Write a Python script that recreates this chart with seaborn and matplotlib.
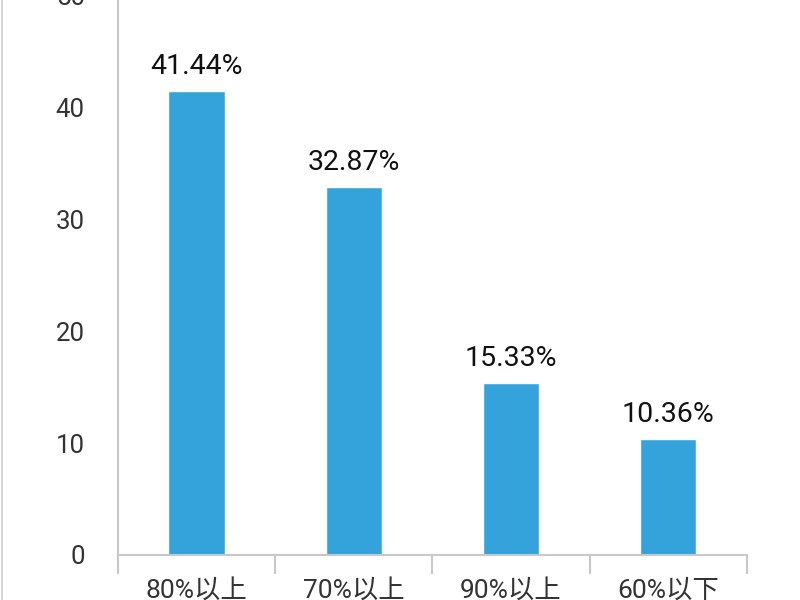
import matplotlib
matplotlib.use("Agg")
import matplotlib.pyplot as plt
import seaborn as sns
import pandas as pd
from matplotlib.lines import Line2D

categories = ["80%以上", "70%以上", "90%以上", "60%以下"]
values = [41.44, 32.87, 15.33, 10.36]
value_labels = ["41.44%", "32.87%", "15.33%", "10.36%"]
y_ticks = [0, 10, 20, 30, 40, 50]

sns.set_style("white")
plt.rcParams["font.family"] = ["Roboto", "Noto Sans CJK SC", "DejaVu Sans"]

df = pd.DataFrame({"category": categories, "value": values})

fig = plt.figure(figsize=(8, 6), dpi=100)
ax = fig.add_axes([0.1475, 0.075, 0.786, 0.9333])

sns.barplot(data=df, x="category", y="value", color="#35A3DB",
            saturation=1, width=0.36, ax=ax)

ax.set_ylim(0, 50)
ax.set_xlim(-0.5, len(categories) - 0.5)
ax.set_yticks(y_ticks)
ax.set_xlabel("")
ax.set_ylabel("")

for i, (v, lab) in enumerate(zip(values, value_labels)):
    ax.annotate(lab, (i, v), xytext=(0, 8), textcoords="offset points",
                ha="center", va="bottom", fontsize=20.5, color="#111111")

sns.despine(ax=ax, top=True, right=True)
for side in ["left", "bottom"]:
    ax.spines[side].set_color("#C8C8C8")
    ax.spines[side].set_linewidth(1.5)

ax.tick_params(axis="y", left=False, length=0, pad=24, labelsize=18.5,
               labelcolor="#333333")
ax.tick_params(axis="x", which="major", length=0, pad=17, labelsize=19,
               labelcolor="#333333")
ax.set_xticks([i - 0.5 for i in range(len(categories) + 1)], minor=True)
ax.tick_params(axis="x", which="minor", bottom=True, length=14, width=1.5,
               color="#C8C8C8")

# thin border line at the left edge of the picture
fig.add_artist(Line2D([0.002, 0.002], [0, 1], transform=fig.transFigure,
                      color="#CCCCCC", linewidth=1.2))

fig.savefig("out.png", dpi=100)
